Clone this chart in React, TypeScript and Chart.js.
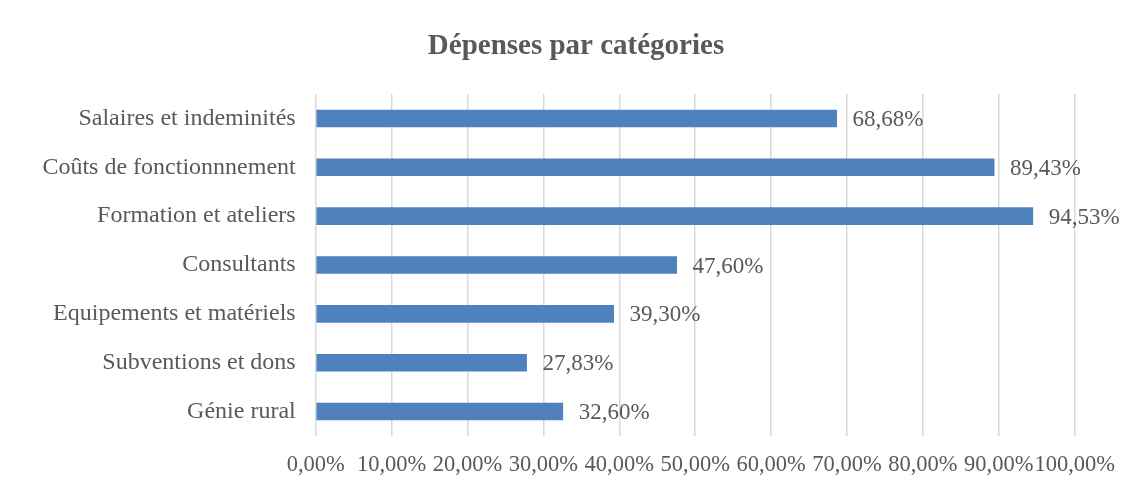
import React, { useEffect, useRef } from "react";
import { Chart, registerables } from "chart.js";

Chart.register(...registerables);

const title = "Dépenses par catégories";
const categories = [
  "Salaires et indeminités",
  "Coûts de fonctionnnement",
  "Formation et ateliers",
  "Consultants",
  "Equipements et matériels",
  "Subventions et dons",
  "Génie rural",
];
const values = [68.68, 89.43, 94.53, 47.6, 39.3, 27.83, 32.6];
const xTickMin = 0;
const xTickMax = 100;
const xTickStep = 10;

const FONT = "'Liberation Serif', 'Times New Roman', serif";
const TEXT = "#595959";
const BAR = "#4F81BD";
const GRID = "#D9D9D9";
const FRAME = "#D9D9D9";

const fmt = (v: number) => v.toFixed(2).replace(".", ",") + "%";

const dataLabels = {
  id: "dataLabels",
  afterDatasetsDraw(chart: any) {
    const ctx = chart.ctx;
    const meta = chart.getDatasetMeta(0);
    ctx.save();
    ctx.font = `23px ${FONT}`;
    ctx.fillStyle = TEXT;
    ctx.textAlign = "left";
    ctx.textBaseline = "middle";
    meta.data.forEach((el: any, i: number) => {
      ctx.fillText(fmt(values[i]), el.x + 15.5, el.y + 1.5);
    });
    ctx.restore();
  },
};

const frameAndTitle = {
  id: "frameAndTitle",
  beforeDraw(chart: any) {
    const ctx = chart.ctx;
    ctx.save();
    ctx.fillStyle = "#ffffff";
    ctx.fillRect(0, 0, chart.width, chart.height);
    ctx.restore();
  },
  afterDraw(chart: any) {
    const ctx = chart.ctx;
    ctx.save();
    ctx.fillStyle = FRAME;
    ctx.fillRect(6, 6, 2, chart.height);
    ctx.fillRect(6, 6, chart.width, 2);
    ctx.fillStyle = TEXT;
    ctx.font = `bold 29px ${FONT}`;
    ctx.textAlign = "center";
    ctx.textBaseline = "middle";
    ctx.fillText(title, 576, 46.5);
    ctx.restore();
  },
};

export default function App() {
  const ref = useRef<HTMLCanvasElement | null>(null);
  useEffect(() => {
    if (!ref.current) return;
    const chart = new Chart(ref.current, {
      type: "bar",
      data: {
        labels: categories,
        datasets: [
          {
            data: values,
            backgroundColor: BAR,
            borderWidth: 0,
            categoryPercentage: 1,
            barPercentage: 0.36,
          },
        ],
      },
      options: {
        indexAxis: "y",
        responsive: false,
        animation: false,
        devicePixelRatio: 1,
        layout: { padding: { left: 0, right: 64.3, top: 94, bottom: 13.5 } },
        plugins: {
          legend: { display: false },
          tooltip: { enabled: false },
          title: { display: false },
        },
        scales: {
          x: {
            min: xTickMin,
            max: xTickMax,
            grid: { color: GRID, lineWidth: 1.5, drawTicks: false },
            border: { display: false },
            ticks: {
              stepSize: xTickStep,
              color: TEXT,
              font: { family: FONT, size: 22.5 },
              padding: 15.5,
              maxRotation: 0,
              autoSkip: false,
              callback: (v: any) => fmt(Number(v)),
            },
            afterFit: (axis: any) => {
              axis.height = 42.5;
            },
          },
          y: {
            grid: { display: false, drawTicks: false },
            border: { display: false },
            ticks: {
              color: TEXT,
              font: { family: FONT, size: 24 },
              padding: 20,
            },
            afterFit: (axis: any) => {
              axis.width = 315.7;
            },
          },
        },
      },
      plugins: [frameAndTitle, dataLabels],
    });
    return () => chart.destroy();
  }, []);
  return (
    <div style={{ width: 1139, height: 492, margin: "-8px 0 0 -8px" }}>
      <canvas ref={ref} width={1139} height={492} style={{ display: "block" }} />
    </div>
  );
}
